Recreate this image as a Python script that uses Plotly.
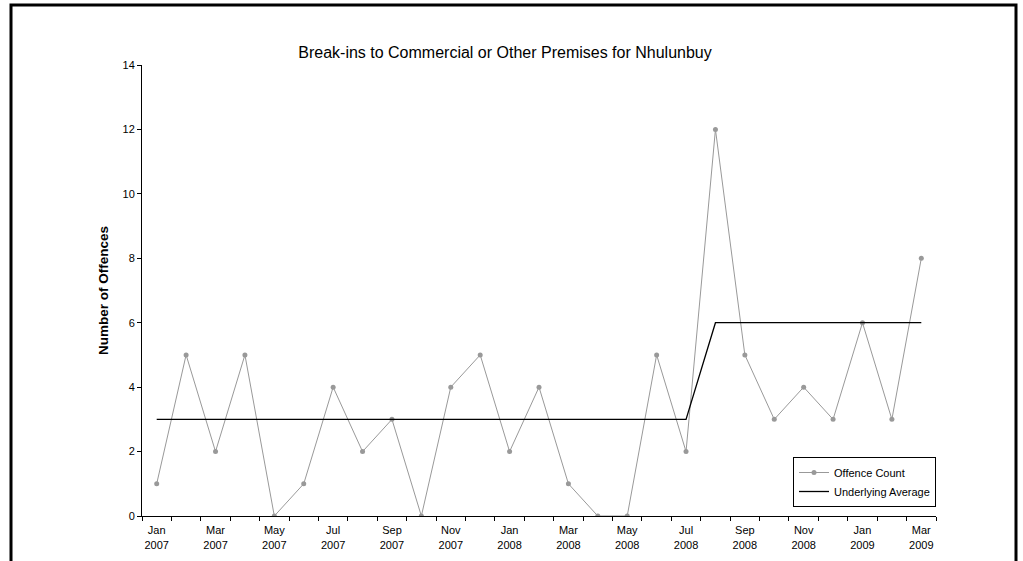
import plotly.graph_objects as go

months = ["Jan", "Feb", "Mar", "Apr", "May", "Jun", "Jul", "Aug", "Sep", "Oct", "Nov", "Dec"]
years = [2007, 2008, 2009]
categories = [f"{m} {y}" for y in years for m in months][:27]
offence_count = [1, 5, 2, 5, 0, 1, 4, 2, 3, 0, 4, 5, 2, 4, 1, 0, 0, 5, 2, 12, 5, 3, 4, 3, 6, 3, 8]
underlying_avg = [3] * 19 + [6] * 8

x = list(range(len(categories)))
tick_idx = x[::2]
tick_text = [categories[i].replace(" ", "<br>") for i in tick_idx]

fig = go.Figure()
fig.add_trace(go.Scatter(
    x=x, y=offence_count, mode="lines+markers", name="Offence Count",
    line=dict(color="#999999", width=1), marker=dict(color="#999999", size=5),
))
fig.add_trace(go.Scatter(
    x=x, y=underlying_avg, mode="lines", name="Underlying Average",
    line=dict(color="#000000", width=1.3),
))

L, R, T, B = 142, 87, 65, 45
W, H = 1023, 561
pw, ph = W - L - R, H - T - B

def px_x(v):
    return (v - L) / pw

def px_y(v):
    return (H - B - v) / ph

fig.update_layout(
    width=W, height=H,
    margin=dict(l=L, r=R, t=T, b=B),
    paper_bgcolor="white", plot_bgcolor="white",
    font=dict(family="Arial, Liberation Sans, sans-serif", color="black", size=11),
    title=dict(text="Break-ins to Commercial or Other Premises for Nhulunbuy",
               x=505 / W, xanchor="center", y=1 - 52 / H, yanchor="middle",
               font=dict(size=16)),
    xaxis=dict(range=[-0.5, len(x) - 0.5], tickvals=tick_idx, ticktext=tick_text,
               ticks="", showgrid=False, zeroline=False, showline=True,
               linecolor="black", linewidth=1, tickfont=dict(size=11),
               ticklabelstandoff=4, automargin=False,
               minor=dict(tick0=-0.5, dtick=1, ticks="outside", ticklen=4,
                          tickcolor="black", showgrid=False)),
    yaxis=dict(range=[0, 14], dtick=2, ticks="outside", ticklen=4, tickcolor="black",
               showgrid=False, zeroline=False, showline=True, linecolor="black",
               linewidth=1, tickfont=dict(size=11), automargin=False,
               title=dict(text="<b>Number of Offences</b>", font=dict(size=13.5), standoff=10)),
    legend=dict(x=1.0, xanchor="right", y=px_y(482), yanchor="middle",
                bgcolor="white", bordercolor="black", borderwidth=1,
                font=dict(size=11), tracegroupgap=0, itemwidth=30),
    showlegend=True,
    shapes=[dict(type="rect", xref="paper", yref="paper",
                 x0=px_x(11), x1=px_x(1016), y0=px_y(575), y1=px_y(5),
                 line=dict(color="black", width=3), layer="below")],
)

fig.write_html("out.html", config={"displayModeBar": False},
               post_script="document.body.style.margin='0';")
